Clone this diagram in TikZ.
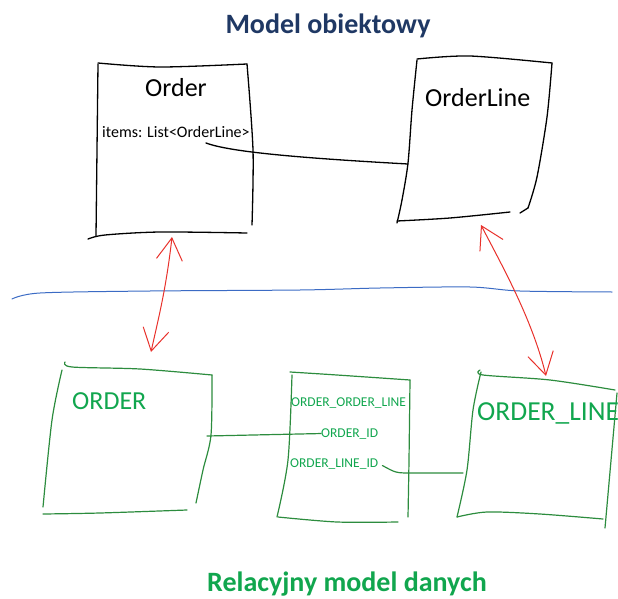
\documentclass[tikz,border=0pt]{standalone}
\usepackage{fontspec}
\setmainfont{Carlito}
\usetikzlibrary{arrows.meta}

\definecolor{titleblue}{HTML}{1F3864}
\definecolor{tablegreen}{HTML}{11A64E}
\definecolor{inkgreen}{HTML}{2C8C3E}
\definecolor{inkred}{HTML}{E8312B}
\definecolor{inkblue}{HTML}{3B6BC4}

\tikzset{
  ink/.style={line width=1.3pt, line cap=round, line join=round},
  blackink/.style={ink, black},
  greenink/.style={ink, inkgreen, line width=1.2pt},
  redink/.style={ink, inkred, line width=1pt,
    {Straight Barb[length=22pt,width=26pt]}-{Straight Barb[length=22pt,width=26pt]}},
  heading/.style={font=\bfseries\fontsize{28}{32}\selectfont, inner sep=0pt, anchor=base},
  big/.style={font=\fontsize{26}{30}\selectfont, inner sep=0pt, anchor=base west},
  small/.style={font=\fontsize{13.5}{16}\selectfont, inner sep=0pt, anchor=base west},
}

\begin{document}
\begin{tikzpicture}[x=1pt,y=-1pt]
  \useasboundingbox (0,0) rectangle (618,599);

  % headings
  \node[heading, text=titleblue] (objTitle) at (328,34) {Model obiektowy};
  \node[heading, text=tablegreen, anchor=base west] (dbTitle) at (207,591) {Relacyjny model danych};

  % class Order
  \draw[blackink] plot[smooth] coordinates {(98,64) (97,150) (96,236)};
  \draw[blackink] plot[smooth] coordinates {(98,63) (160,67) (247,64)};
  \draw[blackink] plot[smooth] coordinates {(247,64) (253,150) (252,225)};
  \draw[blackink] plot[smooth] coordinates {(88,239) (105,235) (160,232) (247,233)};
  \node[big] (orderLbl) at (145,97) {Order};
  \node[small, font=\fontsize{16}{19}\selectfont] (itemsLbl) at (102,138) {items: List<OrderLine>};
  \coordinate (items-tail) at (206,143);
  \coordinate (order-foot) at (172,237);

  % class OrderLine
  \draw[blackink] plot[smooth] coordinates {(417,60) (412,110) (408,163) (402,200) (397,223)};
  \draw[blackink] plot[smooth] coordinates {(417,59) (470,56) (552,63)};
  \draw[blackink] plot[smooth] coordinates {(552,63) (547,117) (537,177) (528,208)};
  \draw[blackink] (528,208) -- (520,213);
  \draw[blackink] plot[smooth] coordinates {(397,221) (450,218) (510,212)};
  \node[big] (orderLineLbl) at (425,107) {OrderLine};
  \coordinate (ol-port) at (408,164);
  \coordinate (ol-foot) at (481,225);

  % items -> OrderLine
  \draw[blackink] (items-tail) .. controls (230,152) and (300,158) .. (ol-port);

  % separator
  \draw[ink, inkblue, line width=1pt] plot[smooth] coordinates
    {(12,299) (40,293) (150,291) (300,290) (380,288) (470,287) (520,291) (612,292)};

  % table ORDER
  \draw[greenink] plot[smooth] coordinates {(65,362) (72,367) (140,369) (212,375)};
  \draw[greenink] plot[smooth] coordinates {(62,370) (52,420) (43,507)};
  \draw[greenink] plot[smooth] coordinates {(212,375) (211,435) (203,470) (196,503)};
  \draw[greenink] plot[smooth] coordinates {(43,514) (100,513) (187,510)};
  \node[big, text=tablegreen] (dbOrderLbl) at (72,409) {ORDER};
  \coordinate (dbo-port) at (207,436);
  \coordinate (dbo-head) at (151,352);

  % join table ORDER_ORDER_LINE
  \draw[greenink] plot[smooth] coordinates {(290,372) (337,375) (410,380)};
  \draw[greenink] plot[smooth] coordinates {(410,380) (409,460) (408,517)};
  \draw[greenink] plot[smooth] coordinates {(292,375) (288,460) (277,517)};
  \draw[greenink] plot[smooth] coordinates {(278,517) (337,522) (398,522)};
  \node[small, text=tablegreen] (joinLbl) at (291,406) {ORDER\_ORDER\_LINE};
  \node[small, text=tablegreen] (ordId) at (321,437) {ORDER\_ID};
  \node[small, text=tablegreen] (ordLineId) at (290,467) {ORDER\_LINE\_ID};

  % table ORDER_LINE
  \draw[greenink] plot[smooth] coordinates {(480,370) (483,375) (550,380) (615,390)};
  \draw[greenink] plot[smooth] coordinates {(481,372) (473,410) (467,470) (457,517)};
  \draw[greenink] plot[smooth] coordinates {(457,517) (487,512) (540,514) (603,519)};
  \draw[greenink] (617,393) -- (605,528);
  \node[big, font=\fontsize{27.5}{32}\selectfont, text=tablegreen] (dbOrderLineLbl) at (477,420) {ORDER\_LINE};
  \coordinate (dbol-port) at (463,473);
  \coordinate (dbol-head) at (546,376);

  % foreign keys
  \draw[greenink] (dbo-port) -- (ordId.west);
  \draw[greenink] ([xshift=4pt,yshift=-2pt]ordLineId.east) .. controls (396,473) .. (412,473) -- (dbol-port);

  % mapping arrows
  \draw[redink] (order-foot) .. controls (166,290) and (158,320) .. (dbo-head);
  \draw[redink] (ol-foot) .. controls (500,262) and (532,318) .. (dbol-head);
\end{tikzpicture}
\end{document}
